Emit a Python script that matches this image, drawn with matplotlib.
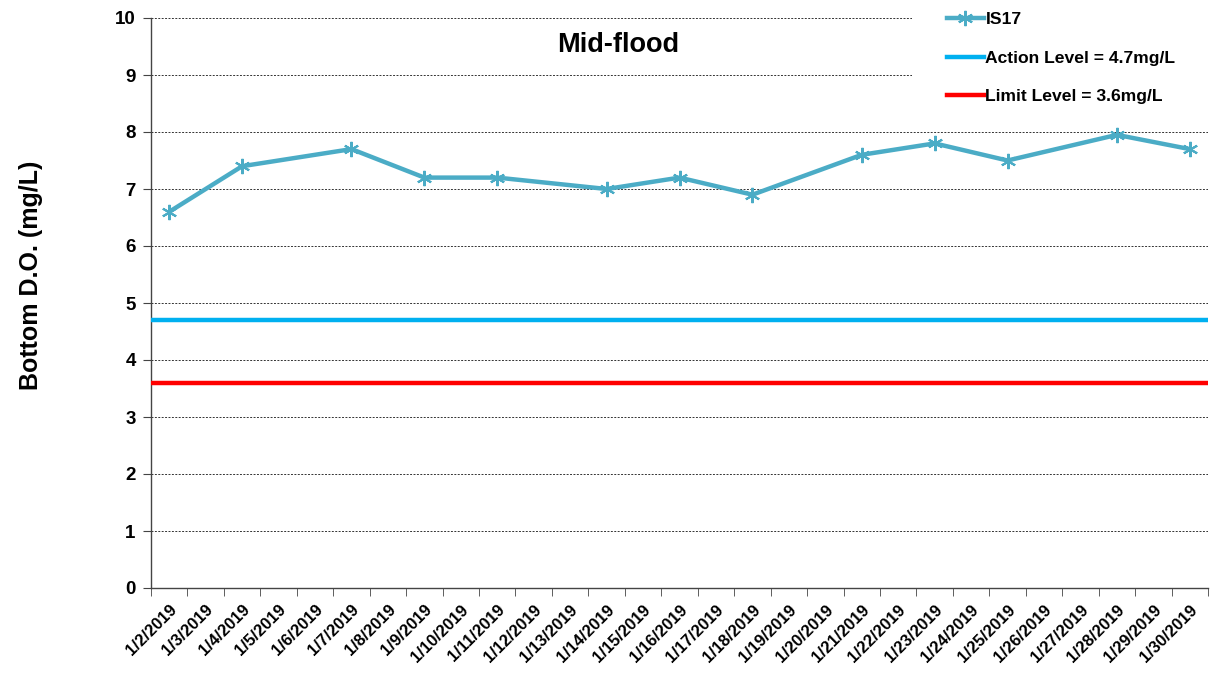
import matplotlib
matplotlib.use("Agg")
import matplotlib.pyplot as plt
from matplotlib.patches import Rectangle
import numpy as np

plt.rcParams['font.family'] = ['Liberation Sans', 'DejaVu Sans']
plt.rcParams['font.weight'] = 'bold'

dates = [f"1/{d}/2019" for d in range(2, 31)]
sample_dates = ["1/2/2019", "1/4/2019", "1/7/2019", "1/9/2019", "1/11/2019",
                "1/14/2019", "1/16/2019", "1/18/2019", "1/21/2019", "1/23/2019",
                "1/25/2019", "1/28/2019", "1/30/2019"]
is17 = [6.6, 7.4, 7.7, 7.2, 7.2, 7.0, 7.2, 6.9, 7.6, 7.8, 7.5, 7.95, 7.7]
action_level = 4.7
limit_level = 3.6
y_ticks = list(range(0, 11))

fig = plt.figure(figsize=(12.11, 6.74), dpi=100)
ax = fig.add_axes([151/1211, 1-588/674, (1208-151)/1211, (588-18)/674])

xs = [dates.index(d) for d in sample_dates]
ax.plot(xs, is17, color='#4BACC6', lw=3.2, marker=(6, 2, 0), markersize=11,
        markeredgewidth=1.5, label='IS17', zorder=4)
ax.axhline(action_level, color='#00B0F0', lw=3.2, label='Action Level = 4.7mg/L', zorder=3)
ax.axhline(limit_level, color='#FF0000', lw=3.2, label='Limit Level = 3.6mg/L', zorder=3)

ax.set_xlim(-0.5, len(dates) - 0.5)
ax.set_ylim(0, 10)
ax.set_yticks(y_ticks)
ax.set_yticklabels([str(t) for t in y_ticks], fontsize=13.5, fontweight='bold')
ax.set_xticks(range(len(dates)))
ax.set_xticklabels(dates, rotation=45, ha='right', rotation_mode='anchor',
                   fontsize=12, fontweight='bold')
ax.set_xticks(np.arange(-0.5, len(dates), 1), minor=True)
ax.tick_params(axis='x', which='major', length=0, pad=10)
ax.tick_params(axis='x', which='minor', length=6, direction='out', color='#444444')
ax.tick_params(axis='y', length=6, direction='out', color='#444444', pad=5)

ax.grid(axis='y', color='#333333', linestyle=(0, (2, 1.5)), lw=0.7, zorder=0)
ax.set_axisbelow(True)
for s in ['top', 'right']:
    ax.spines[s].set_visible(False)
for s in ['left', 'bottom']:
    ax.spines[s].set_color('#444444')
    ax.spines[s].set_linewidth(1.0)

ax.text(0.442, 0.953, 'Mid-flood', transform=ax.transAxes, ha='center', va='center',
        fontsize=19.5, fontweight='bold')
fig.text(31/1211, 1-275/674, 'Bottom D.O. (mg/L)', rotation=90, ha='center', va='center',
         fontsize=18, fontweight='bold')

# white backdrop of legend area (covers gridlines as in reference)
fig.patches.append(Rectangle((912/1211, 1-105/674), 1-912/1211, 105/674,
                             transform=fig.transFigure, facecolor='white',
                             edgecolor='none', zorder=2))

leg = fig.legend(loc='upper left', bbox_to_anchor=(935/1211, 1.0), frameon=False,
                 prop={'weight': 'bold', 'size': 12.6}, handlelength=2.1,
                 handletextpad=0.1, labelspacing=1.33, borderpad=0.68, borderaxespad=0)
leg.set_zorder(3)

fig.savefig('out.png', dpi=100)
